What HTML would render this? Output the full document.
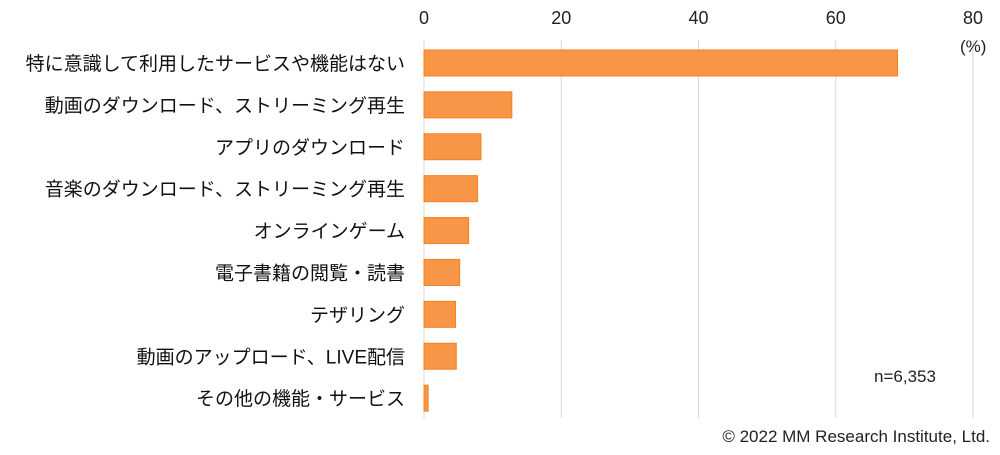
<!DOCTYPE html>
<html><head><meta charset="utf-8"><style>
body{margin:0;background:#fff;width:1000px;height:450px;overflow:hidden;font-family:"Liberation Sans","Noto Sans CJK JP",sans-serif;}
</style></head><body>
<svg width="1000" height="450" id="chart" style="font-family:'Liberation Sans','Noto Sans CJK JP',sans-serif">
<text x="960" y="52" font-size="17" fill="#222">(%)</text>
<text x="905" y="382" font-size="17" fill="#222" text-anchor="middle">n=6,353</text>
<text x="990" y="442" font-size="17" fill="#222" text-anchor="end">© 2022 MM Research Institute, Ltd.</text>
</svg>
<script>
const categories=["特に意識して利用したサービスや機能はない","動画のダウンロード、ストリーミング再生","アプリのダウンロード","音楽のダウンロード、ストリーミング再生","オンラインゲーム","電子書籍の閲覧・読書","テザリング","動画のアップロード、LIVE配信","その他の機能・サービス"];
const values=[69.0,12.8,8.3,7.8,6.5,5.2,4.6,4.7,0.6];
const ticks=[0,20,40,60,80];
const svg=document.getElementById('chart');
const NS='http://www.w3.org/2000/svg';
const x0=424,x1=973,xmax=80;
const xs=v=>x0+(x1-x0)*v/xmax;
const top0=42,step=41.9,bh=26;
const yc=i=>top0+step*i+step/2;
function mk(t,a){const e=document.createElementNS(NS,t);for(const k in a)e.setAttribute(k,a[k]);svg.insertBefore(e,svg.firstChild);return e;}
ticks.forEach((t,i)=>{
 const g=mk('line',{x1:xs(t),x2:xs(t),y1:40,y2:418,stroke:'#d9d9d9','stroke-width':1});
 
 
 const l=mk('text',{x:xs(t),y:24,'font-size':18,'text-anchor':'middle',fill:'#222'});
 l.textContent=t;
 
 
});
categories.forEach((c,i)=>{
 const b=document.createElementNS(NS,'rect');
 b.setAttribute('x',x0);b.setAttribute('y',yc(i)-bh/2);b.setAttribute('width',xs(values[i])-x0);b.setAttribute('height',bh);
 b.setAttribute('fill','#f79646');b.setAttribute('stroke','#f5801f');b.setAttribute('stroke-width','1');
 
 
 svg.appendChild(b);
 const t=document.createElementNS(NS,'text');
 t.setAttribute('x',405);t.setAttribute('y',yc(i)+7);t.setAttribute('text-anchor','end');t.setAttribute('font-size','19');t.setAttribute('fill','#111');
 t.textContent=c;
 
 
 svg.appendChild(t);
});
</script>
</body></html>
